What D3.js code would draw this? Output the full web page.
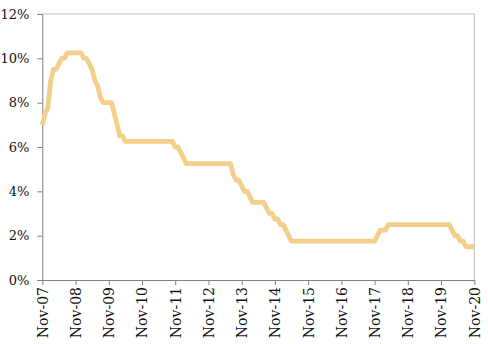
<!DOCTYPE html>
<html>
<head>
<meta charset="utf-8">
<script src="https://cdn.jsdelivr.net/npm/d3@7"></script>
<style>
  html, body { margin: 0; padding: 0; background: #ffffff; }
  svg { display: block; }
</style>
</head>
<body>
<svg id="chart" width="488" height="344"></svg>
<script>
// Monthly series, Nov-07 .. Nov-20 (percent)
const startMonth = "2007-11";
const values = [
  7.0, 7.5, 7.75, 9.0, 9.5, 9.5, 9.75, 10.0, 10.0,
  10.25, 10.25, 10.25, 10.25, 10.25, 10.25,
  10.0, 10.0, 9.75, 9.5, 9.0, 8.75, 8.25, 8.0, 8.0, 8.0, 8.0, 7.5, 7.0, 6.5, 6.5,
  6.25, 6.25, 6.25, 6.25, 6.25, 6.25, 6.25, 6.25, 6.25, 6.25, 6.25, 6.25, 6.25, 6.25, 6.25, 6.25, 6.25, 6.25,
  6.0, 6.0, 5.75, 5.5,
  5.25, 5.25, 5.25, 5.25, 5.25, 5.25, 5.25, 5.25, 5.25, 5.25, 5.25, 5.25, 5.25, 5.25, 5.25, 5.25, 5.25,
  4.75, 4.5, 4.5, 4.25, 4.0, 4.0, 3.75,
  3.5, 3.5, 3.5, 3.5, 3.5,
  3.25, 3.0, 3.0, 2.75, 2.75, 2.5, 2.5, 2.25, 2.0,
  1.75, 1.75, 1.75, 1.75, 1.75, 1.75, 1.75, 1.75, 1.75, 1.75, 1.75, 1.75, 1.75, 1.75, 1.75, 1.75,
  1.75, 1.75, 1.75, 1.75, 1.75, 1.75, 1.75, 1.75, 1.75, 1.75, 1.75, 1.75, 1.75, 1.75, 1.75,
  2.0, 2.25, 2.25, 2.25,
  2.5, 2.5, 2.5, 2.5, 2.5, 2.5, 2.5, 2.5, 2.5, 2.5, 2.5, 2.5, 2.5, 2.5, 2.5, 2.5, 2.5, 2.5, 2.5, 2.5, 2.5, 2.5, 2.5,
  2.25, 2.0, 2.0, 1.75, 1.75,
  1.5, 1.5, 1.5, 1.5
];
const xTickLabels = ["Nov-07","Nov-08","Nov-09","Nov-10","Nov-11","Nov-12","Nov-13",
                     "Nov-14","Nov-15","Nov-16","Nov-17","Nov-18","Nov-19","Nov-20"];
const yTickValues = [0, 2, 4, 6, 8, 10, 12];
const yTickLabels = ["0%", "2%", "4%", "6%", "8%", "10%", "12%"];

const svg = d3.select("#chart");
const mLeft = 42.3, mRight = 474.3, mTop = 14, mBottom = 280;

const parse = d3.timeParse("%Y-%m");
const start = parse(startMonth);
const data = values.map((v, i) => ({ date: d3.timeMonth.offset(start, i), value: v }));
const endDate = d3.timeMonth.offset(start, 12 * (xTickLabels.length - 1));

const x = d3.scaleTime().domain([start, endDate]).range([mLeft, mRight]);
const y = d3.scaleLinear().domain([0, 12]).range([mBottom, mTop]);

const fontFam = "'DejaVu Serif', serif";

// plot frame: top and right borders (light)
svg.append("path")
  .attr("d", `M${mLeft},${mTop}H${mRight}V${mBottom}`)
  .attr("fill", "none")
  .attr("stroke", "#bfbfbf")
  .attr("stroke-width", 1);

// y axis
const yAxis = d3.axisLeft(y)
  .tickValues(yTickValues)
  .tickFormat((d, i) => yTickLabels[i])
  .tickSize(5)
  .tickPadding(8);
const gy = svg.append("g").attr("transform", `translate(${mLeft},0)`).call(yAxis);
gy.select(".domain").attr("stroke", "#808080");
gy.selectAll(".tick line").attr("stroke", "#808080");
gy.selectAll(".tick text")
  .attr("font-family", fontFam)
  .attr("font-size", 13)
  .attr("fill", "#111");

// x axis
const xTicks = xTickLabels.map((_, i) => d3.timeMonth.offset(start, 12 * i));
const xAxis = d3.axisBottom(x)
  .tickValues(xTicks)
  .tickFormat((d, i) => xTickLabels[i])
  .tickSize(5)
  .tickSizeOuter(0);
const gx = svg.append("g").attr("transform", `translate(0,${mBottom})`).call(xAxis);
gx.select(".domain").attr("stroke", "#808080");
gx.selectAll(".tick line").attr("stroke", "#808080");
gx.selectAll(".tick text")
  .attr("font-family", fontFam)
  .attr("font-size", 14)
  .attr("fill", "#111")
  .attr("text-anchor", "end")
  .attr("transform", "rotate(-90)")
  .attr("x", -7)
  .attr("y", 0)
  .attr("dy", "0.35em");

// line
const line = d3.line()
  .x(d => x(d.date))
  .y(d => y(d.value));
svg.append("path")
  .datum(data)
  .attr("d", line)
  .attr("fill", "none")
  .attr("stroke", "#F4CF8A")
  .attr("stroke-width", 4.8)
  .attr("stroke-linejoin", "round");
</script>
</body>
</html>
